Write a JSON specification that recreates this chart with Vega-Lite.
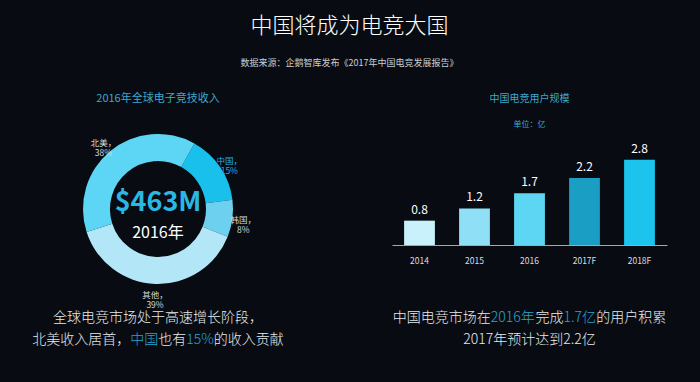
{
  "$schema": "https://vega.github.io/schema/vega-lite/v6.json",
  "background": "#080c12",
  "padding": {"top": 14, "left": 0, "right": 34, "bottom": 40},
  "config": {
    "view": {"stroke": null},
    "font": "Noto Sans CJK SC",
    "title": {"font": "Noto Sans CJK SC", "subtitleFont": "Noto Sans CJK SC"},
    "text": {"font": "Noto Sans CJK SC"}
  },
  "title": {
    "text": "中国将成为电竞大国",
    "subtitle": "数据来源：企鹅智库发布《2017年中国电竞发展报告》",
    "anchor": "middle",
    "fontSize": 22,
    "fontWeight": 300,
    "color": "#ffffff",
    "subtitleFontSize": 9,
    "subtitleColor": "#c9ced4",
    "subtitlePadding": 21,
    "offset": 24,
    "dx": 16
  },
  "spacing": 1,
  "resolve": {"scale": {"color": "independent"}},
  "vconcat": [
    {
      "spacing": 76,
      "resolve": {"scale": {"color": "independent"}},
      "hconcat": [
        {
          "width": 316,
          "height": 144,
          "title": {"text": "2016年全球电子竞技收入", "fontSize": 11, "fontWeight": "normal", "color": "#3aa9cf", "anchor": "middle", "offset": 30.5},
          "data": {"values": [
            {"region": "中国", "share": 15, "rank": 1, "label": "中国，\n15%"},
            {"region": "韩国", "share": 8, "rank": 2, "label": "韩国，\n8%"},
            {"region": "其他", "share": 39, "rank": 3, "label": "其他，\n39%"},
            {"region": "北美", "share": 38, "rank": 4, "label": "北美，\n38%"}
          ]},
          "layer": [
            {
              "mark": {"type": "arc", "innerRadius": 48, "outerRadius": 75},
              "encoding": {
                "theta": {"field": "share", "type": "quantitative", "stack": true, "scale": {"range": [0.506, 6.789]}},
                "order": {"field": "rank", "type": "quantitative"},
                "color": {"field": "region", "type": "nominal", "legend": null,
                  "scale": {"domain": ["中国", "韩国", "其他", "北美"], "range": ["#1ac0ec", "#6cd0ee", "#b3e6f7", "#5dd5f5"]}}
              }
            },
            {
              "mark": {"type": "text", "radius": 86, "fontSize": 8.5, "lineBreak": "\n", "lineHeight": 10},
              "encoding": {
                "theta": {"field": "share", "type": "quantitative", "stack": true, "scale": {"range": [0.506, 6.789]}},
                "order": {"field": "rank", "type": "quantitative"},
                "text": {"field": "label", "type": "nominal"},
                "color": {"condition": {"test": "datum.region === '中国'", "value": "#22b2e2"}, "value": "#d3d8dd"}
              }
            },
            {
              "data": {"values": [{"total": "$463M", "year": "2016年"}]},
              "mark": {"type": "text", "fontSize": 27, "fontWeight": "bold", "color": "#2ab8e3", "dy": -6},
              "encoding": {"text": {"field": "total", "type": "nominal"}}
            },
            {
              "data": {"values": [{"total": "$463M", "year": "2016年"}]},
              "mark": {"type": "text", "fontSize": 16, "color": "#ffffff", "dy": 24},
              "encoding": {"text": {"field": "year", "type": "nominal"}}
            }
          ]
        },
        {
          "width": 275,
          "height": 108,
          "title": {"text": "中国电竞用户规模", "subtitle": "单位：亿", "fontSize": 10, "fontWeight": "normal", "color": "#3aa9cf", "subtitleFontSize": 8, "subtitleColor": "#3aa9cf", "subtitlePadding": 17, "anchor": "middle", "offset": 8},
          "data": {"values": [
            {"year": "2014", "users": 0.8},
            {"year": "2015", "users": 1.2},
            {"year": "2016", "users": 1.7},
            {"year": "2017F", "users": 2.2},
            {"year": "2018F", "users": 2.8}
          ]},
          "encoding": {
            "x": {"field": "year", "type": "ordinal", "scale": {"paddingInner": 0.44, "paddingOuter": 0.22},
              "axis": {"title": null, "labelAngle": 0, "labelColor": "#d8dde2", "labelFontSize": 8.5, "ticks": false, "domainColor": "#a0a8b0", "labelPadding": 11, "grid": false}},
            "y": {"field": "users", "type": "quantitative", "scale": {"domain": [0, 3.55]}, "axis": null}
          },
          "layer": [
            {
              "mark": {"type": "bar"},
              "encoding": {
                "color": {"field": "year", "type": "nominal", "legend": null,
                  "scale": {"domain": ["2014", "2015", "2016", "2017F", "2018F"], "range": ["#c9f1fb", "#8fe0f6", "#5cd6f2", "#1a9ec4", "#1cc3ec"]}}
              }
            },
            {
              "mark": {"type": "text", "fontSize": 12, "color": "#ffffff", "dy": -11},
              "encoding": {"text": {"field": "users", "type": "quantitative", "format": ".1f"}}
            }
          ]
        }
      ]
    },
    {
      "spacing": 76,
      "hconcat": [
        {
          "width": 316,
          "height": 22,
          "encoding": {
            "y": {"field": "line", "type": "ordinal", "axis": null, "scale": {"domain": [1, 2], "padding": 0}},
            "text": {"field": "text", "type": "nominal"}
          },
          "layer": [
            {"data": {"values": [{"line": 1, "text": "全球电竞市场处于高速增长阶段，"}]},
             "mark": {"type": "text", "fontSize": 14, "fontWeight": 300, "color": "#e6eaee"}},
            {"data": {"values": [{"line": 2, "text": "北美收入居首，"}]},
             "mark": {"type": "text", "fontSize": 14, "fontWeight": 300, "color": "#e6eaee", "align": "left", "dx": -125.7}},
            {"data": {"values": [{"line": 2, "text": "中国"}]},
             "mark": {"type": "text", "fontSize": 14, "fontWeight": 300, "color": "#29a3d2", "align": "left", "dx": -27.7}},
            {"data": {"values": [{"line": 2, "text": "也有"}]},
             "mark": {"type": "text", "fontSize": 14, "fontWeight": 300, "color": "#e6eaee", "align": "left", "dx": 0.3}},
            {"data": {"values": [{"line": 2, "text": "15%"}]},
             "mark": {"type": "text", "fontSize": 14, "fontWeight": 300, "color": "#29a3d2", "align": "left", "dx": 28.3}},
            {"data": {"values": [{"line": 2, "text": "的收入贡献"}]},
             "mark": {"type": "text", "fontSize": 14, "fontWeight": 300, "color": "#e6eaee", "align": "left", "dx": 55.7}}
          ]
        },
        {
          "width": 275,
          "height": 22,
          "encoding": {
            "y": {"field": "line", "type": "ordinal", "axis": null, "scale": {"domain": [1, 2], "padding": 0}},
            "text": {"field": "text", "type": "nominal"}
          },
          "layer": [
            {"data": {"values": [{"line": 1, "text": "中国电竞市场在"}]},
             "mark": {"type": "text", "fontSize": 14, "fontWeight": 300, "color": "#e6eaee", "align": "left", "dx": -136.8}},
            {"data": {"values": [{"line": 1, "text": "2016年"}]},
             "mark": {"type": "text", "fontSize": 14, "fontWeight": 300, "color": "#29a3d2", "align": "left", "dx": -38.8}},
            {"data": {"values": [{"line": 1, "text": "完成"}]},
             "mark": {"type": "text", "fontSize": 14, "fontWeight": 300, "color": "#e6eaee", "align": "left", "dx": 6.0}},
            {"data": {"values": [{"line": 1, "text": "1.7亿"}]},
             "mark": {"type": "text", "fontSize": 14, "fontWeight": 300, "color": "#29a3d2", "align": "left", "dx": 34.0}},
            {"data": {"values": [{"line": 1, "text": "的用户积累"}]},
             "mark": {"type": "text", "fontSize": 14, "fontWeight": 300, "color": "#e6eaee", "align": "left", "dx": 66.8}},
            {"data": {"values": [{"line": 2, "text": "2017年预计达到2.2亿"}]},
             "mark": {"type": "text", "fontSize": 14, "fontWeight": 300, "color": "#e6eaee"}}
          ]
        }
      ]
    }
  ]
}
